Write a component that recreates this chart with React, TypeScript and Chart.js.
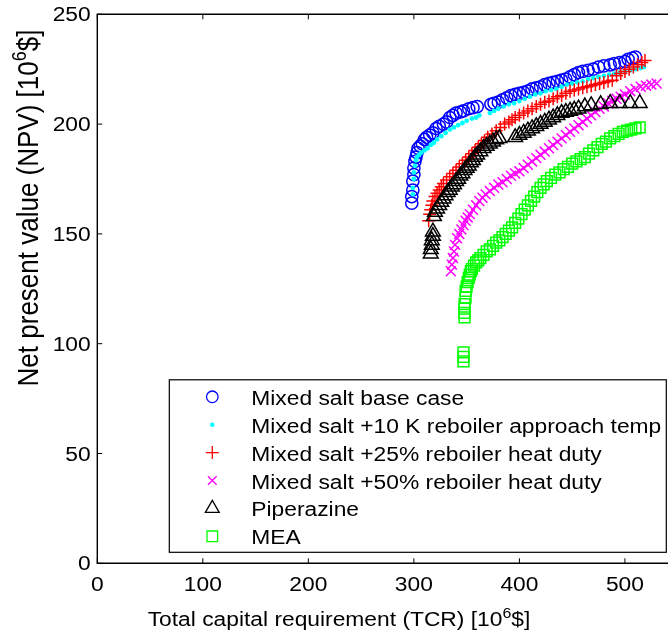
import { useEffect, useRef } from "react";
import { Chart, registerables } from "chart.js";

Chart.register(...registerables);

// ---------- data ----------
const xTickValues = [0, 100, 200, 300, 400, 500];
const yTickValues = [0, 50, 100, 150, 200, 250];

const seriesLabels = [
  "Mixed salt base case",
  "Mixed salt +10 K reboiler approach temp",
  "Mixed salt +25% reboiler heat duty",
  "Mixed salt +50% reboiler heat duty",
  "Piperazine",
  "MEA",
];

const baseX = [298,298,299,299,300,300,301,302,303,304,306,308,310,312,315,318,321,324,328,331,334,337,340,344,347,352,356,360,373,376,380,384,388,392,396,400,404,408,412,416,420,424,428,432,436,440,444,448,452,456,460,465,470,475,480,486,490,495,500,503,507,510];
const baseY = [164,167,170,174,177,180,183,185,187,189,190,191,193,194,195,196,198,199,200,201,203,204,205,205.5,206,207,207.5,208,209,209.5,210,211,212,213,213.5,214,214.5,215,216,216.5,217,218,218.5,219,219.5,220,220.5,221.5,222.5,223.5,224,224.5,225,226,226.5,227,227.5,228,228.5,229.5,230,230.5];

const tempX = [299,299,300,300,301,302,303,305,307,310,313,316,319,322,326,330,334,338,342,346,350,355,359,362,372,376,380,385,390,395,400,405,410,415,420,425,430,435,440,445,450,455,460,465,470,475,480,485,490,495,500,505,510,515,518];
const tempY = [168,171,175,178,181,183.5,185,186,187,188,189,190.5,191.5,193,194.5,196,197.5,198.5,199.5,200.5,201.5,202.5,203,204,205,206,207,208,209,209.5,210.5,211.5,212.5,213.5,214,215,215.5,216,217,218,218.5,219,219.5,220.5,221,221.5,222,222.5,223,223.5,224,224.5,225,225.5,226];

const duty25X = [314,315,316,317,318,320,322,324,326,328,331,334,337,340,343,346,349,352,355,358,361,364,367,370,374,378,382,386,390,393,396,400,404,408,412,416,420,424,428,432,436,440,444,448,452,456,460,464,468,472,476,480,484,488,492,496,500,504,508,512,516,519];
const duty25Y = [156,159,161,163,165,167,168.5,170,171.5,173,174.5,176,177.5,179,180.5,182,183.5,185,186.5,188,189.5,191,192.5,194,195.5,197,198.5,200,201,202,203,204,205,206,207,208,209,210,210.5,211.5,212.5,213,214,215,215.5,216,216.5,217,217.5,218,218.5,219,219.5,220,222,223,224,225,226,227,228,229];

const duty50X = [335,336,337,338,339,341,343,345,347,349,351,353,356,359,362,365,368,372,376,380,384,388,392,396,400,404,408,412,416,420,424,428,432,436,440,444,448,452,456,460,464,468,472,476,480,484,488,492,496,500,505,510,515,520,525,530];
const duty50Y = [133,136,139,142,145,148,150,152,154,156,157.5,159,161,163,165,166.5,168,169.5,171,172.5,173.5,175,176.5,177.5,178.5,180,181.5,183,184.5,186,187.5,189,190.5,192,193.5,195,196.5,198,199.5,201,202.5,204,205.5,207,208,209.5,210.5,211.5,212.5,213.5,215,216,217,217.5,218,218.5];

const pzX = [316,316,317,317,318,318,319,320,322,324,326,328,330,332,334,336,338,340,342,344,346,348,350,352,354,356,358,360,363,366,369,372,375,378,381,396,400,404,408,412,416,420,424,428,432,436,440,444,448,452,456,462,468,477,486,495,505,514];
const pzY = [141,143,145,147,149,151,158,160,161.5,163,164.5,166,167.5,169,170,171.5,172.5,174,175,176.5,177.5,179,180,181,182.5,183.5,185,186,187.5,189,190,191,192,193,193.5,194,195,196,197,198,199,200,201,202,203,204,205,205.5,206,206.5,207,208,208.5,209,209.5,209.5,209.5,209.5];

const meaX = [347,347,347,348,348,348,348,349,349,350,351,352,353,354,355,357,359,361,363,366,369,372,375,378,381,384,387,390,393,396,399,402,405,408,411,414,417,420,423,426,430,434,438,442,446,450,454,458,462,466,470,474,478,482,486,490,494,498,502,506,510,514];
const meaY = [92,94,96,112,114,116,118,121,124,126,128,130,131.5,133,134,135.5,137,138,139,140.5,142,143,144.5,146,147,148.5,150,151.5,153,155,157,159,161,163,165,167,169,171,172.5,174,175.5,177,178,179.5,180.5,182,183,184,185,186.5,188,189.5,191,192,193.5,194.5,195.5,196.5,197,197.5,198,198.5];

// ---------- styling ----------
const FONT = '"Liberation Sans", Arial, Helvetica, sans-serif';
const CANVAS_W = 690;
const CANVAS_H = 637;
const TXT = 20; // font size of horizontal text
const SX = 1.14; // horizontal stretch of the reference's text

type Sym = "circle" | "dot" | "plus" | "x" | "triangle" | "square";

const seriesStyles: { sym: Sym; color: string; ps: any; r: number; fill: boolean }[] = [
  { sym: "circle", color: "#0000ff", ps: "circle", r: 6.1, fill: false },
  { sym: "dot", color: "#00ffff", ps: "circle", r: 2.4, fill: true },
  { sym: "plus", color: "#ff0000", ps: "cross", r: 6.5, fill: false },
  { sym: "x", color: "#ff00ff", ps: "crossRot", r: 7, fill: false },
  { sym: "triangle", color: "#000000", ps: "triangle", r: 8.5, fill: false },
  { sym: "square", color: "#00ff00", ps: "rect", r: 7.6, fill: false },
];

const seriesData = [
  [baseX, baseY],
  [tempX, tempY],
  [duty25X, duty25Y],
  [duty50X, duty50Y],
  [pzX, pzY],
  [meaX, meaY],
];

function drawSymbol(ctx: CanvasRenderingContext2D, sym: Sym, color: string, x: number, y: number) {
  ctx.save();
  ctx.strokeStyle = color;
  ctx.fillStyle = color;
  ctx.lineWidth = 1.3;
  ctx.beginPath();
  if (sym === "circle") {
    ctx.arc(x, y, 5.8, 0, Math.PI * 2);
    ctx.stroke();
  } else if (sym === "dot") {
    ctx.arc(x, y, 2.2, 0, Math.PI * 2);
    ctx.fill();
  } else if (sym === "plus") {
    ctx.moveTo(x - 6.5, y); ctx.lineTo(x + 6.5, y);
    ctx.moveTo(x, y - 6.5); ctx.lineTo(x, y + 6.5);
    ctx.stroke();
  } else if (sym === "x") {
    const d = 4.3;
    ctx.moveTo(x - d, y - d); ctx.lineTo(x + d, y + d);
    ctx.moveTo(x - d, y + d); ctx.lineTo(x + d, y - d);
    ctx.stroke();
  } else if (sym === "triangle") {
    const r = 8;
    ctx.moveTo(x, y - r);
    ctx.lineTo(x + r * 0.866, y + r * 0.5);
    ctx.lineTo(x - r * 0.866, y + r * 0.5);
    ctx.closePath();
    ctx.stroke();
  } else if (sym === "square") {
    ctx.rect(x - 5.3, y - 5.3, 10.6, 10.6);
    ctx.stroke();
  }
  ctx.restore();
}

// text drawn with a horizontal stretch; (x, baseline) anchored per align
function stretchedText(
  ctx: CanvasRenderingContext2D,
  text: string,
  x: number,
  baseline: number,
  align: "left" | "center" | "right",
  size: number,
  sx: number
) {
  ctx.save();
  ctx.font = `${size}px ${FONT}`;
  ctx.textBaseline = "alphabetic";
  ctx.textAlign = align;
  ctx.fillStyle = "#000";
  ctx.translate(x, baseline);
  ctx.scale(sx, 1);
  ctx.fillText(text, 0, 0);
  ctx.restore();
}

// text with a superscript, centred on cx along its own direction
function supText(
  ctx: CanvasRenderingContext2D,
  before: string,
  sup: string,
  after: string,
  cx: number,
  baseline: number,
  size: number
) {
  const main = `${size}px ${FONT}`;
  const small = `${Math.round(size * 0.7)}px ${FONT}`;
  ctx.font = main;
  const w1 = ctx.measureText(before).width;
  const w3 = ctx.measureText(after).width;
  ctx.font = small;
  const w2 = ctx.measureText(sup).width;
  const total = w1 + w2 + w3;
  let x = cx - total / 2;
  ctx.textBaseline = "alphabetic";
  ctx.textAlign = "left";
  ctx.fillStyle = "#000";
  ctx.font = main;
  ctx.fillText(before, x, baseline);
  x += w1;
  ctx.font = small;
  ctx.fillText(sup, x, baseline - size * 0.42);
  x += w2;
  ctx.font = main;
  ctx.fillText(after, x, baseline);
}

const decorPlugin = {
  id: "decor",
  afterDraw(chart: any) {
    const { ctx, chartArea } = chart;
    const xs = chart.scales.x;
    const ys = chart.scales.y;
    const L = chartArea.left, R = chartArea.right, T = chartArea.top, B = chartArea.bottom;
    ctx.save();
    ctx.strokeStyle = "#000";
    ctx.lineWidth = 1.4;
    ctx.beginPath();
    ctx.moveTo(L, T); ctx.lineTo(R, T); ctx.lineTo(R, B); ctx.lineTo(L, B); ctx.closePath();
    ctx.stroke();
    // inward ticks
    ctx.lineWidth = 1;
    ctx.beginPath();
    for (const v of xTickValues) {
      const px = xs.getPixelForValue(v);
      ctx.moveTo(px, B); ctx.lineTo(px, B - 5);
      ctx.moveTo(px, T); ctx.lineTo(px, T + 5);
    }
    for (const v of yTickValues) {
      const py = ys.getPixelForValue(v);
      ctx.moveTo(L, py); ctx.lineTo(L + 5, py);
      ctx.moveTo(R, py); ctx.lineTo(R - 5, py);
    }
    ctx.stroke();

    // tick labels
    const capH = TXT * 0.716;
    for (const v of xTickValues) {
      stretchedText(ctx, String(v), xs.getPixelForValue(v), B + 21 + capH / 2, "center", TXT, SX);
    }
    for (const v of yTickValues) {
      stretchedText(ctx, String(v), L - 6.6, ys.getPixelForValue(v) + capH / 2, "right", TXT, SX);
    }

    // x axis title
    ctx.save();
    ctx.translate(339, 626);
    ctx.scale(SX, 1);
    supText(ctx, "Total capital requirement (TCR) [10", "6", "$]", 0, 0, TXT);
    ctx.restore();

    // y axis title (rotated)
    ctx.save();
    ctx.translate(38, 208);
    ctx.rotate(-Math.PI / 2);
    ctx.scale(1, SX);
    supText(ctx, "Net present value (NPV) [10", "6", "$]", 0, 0, 26);
    ctx.restore();

    // legend
    const lx = L + 72, ly = B - 183.5, lw = 497, lh = 172.5;
    ctx.fillStyle = "#fff";
    ctx.fillRect(lx, ly, lw, lh);
    ctx.strokeStyle = "#000";
    ctx.lineWidth = 1.2;
    ctx.strokeRect(lx, ly, lw, lh);
    seriesLabels.forEach((label, i) => {
      const rowY = ly + 17 + i * 27.9;
      drawSymbol(ctx, seriesStyles[i].sym, seriesStyles[i].color, lx + 43, rowY);
      stretchedText(ctx, label, lx + 82, rowY + 8, "left", TXT, SX);
    });
    ctx.restore();
  },
};

export default function App() {
  const ref = useRef<HTMLCanvasElement | null>(null);

  useEffect(() => {
    if (!ref.current) return;
    const datasets = seriesLabels.map((label, i) => {
      const st = seriesStyles[i];
      const [xs, ys] = seriesData[i];
      return {
        label,
        data: xs.map((x, k) => ({ x, y: ys[k] })),
        showLine: false,
        pointStyle: st.ps,
        pointRadius: st.r,
        pointHoverRadius: st.r,
        pointBorderWidth: st.fill ? 0 : 1.5,
        borderColor: st.color,
        backgroundColor: st.fill ? st.color : "rgba(0,0,0,0)",
        pointBackgroundColor: st.fill ? st.color : "rgba(0,0,0,0)",
        order: 6 - i,
      };
    });

    const chart = new Chart(ref.current, {
      type: "scatter",
      data: { datasets },
      options: {
        animation: false,
        responsive: false,
        devicePixelRatio: 1,
        layout: { padding: { top: 14.3, right: CANVAS_W - 677.7, bottom: 0, left: 0 } },
        plugins: { legend: { display: false }, tooltip: { enabled: false } },
        scales: {
          x: {
            type: "linear",
            min: 0,
            max: 550,
            grid: { display: false, drawTicks: false, tickLength: 0 },
            border: { display: false },
            ticks: { display: false, stepSize: 100 },
            afterFit: (scale: any) => {
              scale.height = CANVAS_H - 563.3;
            },
          },
          y: {
            type: "linear",
            min: 0,
            max: 250,
            grid: { display: false, drawTicks: false, tickLength: 0 },
            border: { display: false },
            ticks: { display: false, stepSize: 50 },
            afterFit: (scale: any) => {
              scale.width = 97.3;
            },
          },
        },
      },
      plugins: [decorPlugin],
    });
    return () => chart.destroy();
  }, []);

  return (
    <div
      style={{
        position: "fixed",
        left: 0,
        top: 0,
        width: 668,
        height: 637,
        overflow: "hidden",
        background: "#fff",
      }}
    >
      <canvas ref={ref} width={CANVAS_W} height={CANVAS_H} style={{ display: "block", width: CANVAS_W, height: CANVAS_H }} />
    </div>
  );
}
